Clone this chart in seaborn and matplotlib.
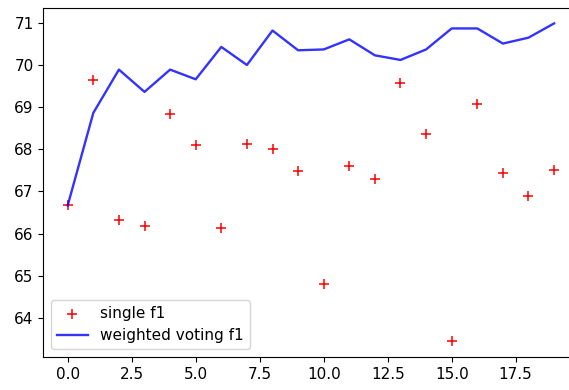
import seaborn as sns
import matplotlib.pyplot as plt
import numpy as np

epochs = list(range(20))
single_f1 = [66.67, 69.66, 66.33, 66.17, 68.85, 68.10, 66.14, 68.14, 68.02, 67.48,
             64.81, 67.60, 67.29, 69.59, 68.36, 63.44, 69.09, 67.44, 66.90, 67.52]
voting_f1 = [66.67, 68.87, 69.90, 69.37, 69.90, 69.67, 70.44, 70.01, 70.83, 70.36,
             70.38, 70.62, 70.24, 70.13, 70.38, 70.88, 70.88, 70.52, 70.66, 71.00]

fig = plt.figure(figsize=(5.69, 3.9), dpi=100)
ax = fig.add_axes([43.4 / 569, 33 / 390, 535 / 569, 349.5 / 390])

sns.scatterplot(x=epochs, y=single_f1, marker='+', s=55, color='red',
                linewidth=1.1, label='single f1', ax=ax)
sns.lineplot(x=epochs, y=voting_f1, color='blue', alpha=0.8, linewidth=1.7,
             label='weighted voting f1', ax=ax)

ax.set_xlim(-0.95, 19.95)
ax.set_xticks([0, 2.5, 5, 7.5, 10, 12.5, 15, 17.5])
ax.set_xticklabels(['0.0', '2.5', '5.0', '7.5', '10.0', '12.5', '15.0', '17.5'])
ax.set_yticks([64, 65, 66, 67, 68, 69, 70, 71])
ax.tick_params(labelsize=11)
ax.legend(loc='lower left', fontsize=11)

plt.savefig('out.png', dpi=100)
